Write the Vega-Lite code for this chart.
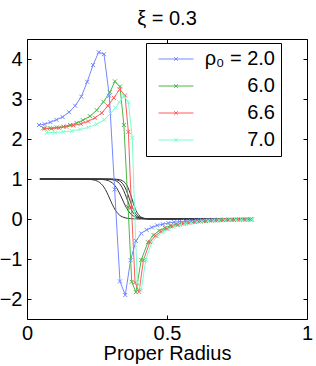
{
  "$schema": "https://vega.github.io/schema/vega-lite/v6.json",
  "width": 280,
  "height": 280,
  "autosize": {"type": "none"},
  "padding": {"left": 27, "top": 39, "right": 9, "bottom": 47},
  "background": "white",
  "title": {"text": "ξ = 0.3", "fontSize": 20, "font": "Liberation Sans", "fontWeight": "normal", "offset": 10, "color": "black"},
  "config": {
    "view": {"stroke": "black", "strokeWidth": 1},
    "font": "Liberation Sans",
    "axis": {"grid": false, "domain": false, "tickColor": "black", "labelColor": "black", "titleColor": "black", "labelFont": "Liberation Sans", "titleFont": "Liberation Sans", "labelFontSize": 20, "titleFontSize": 20, "titleFontWeight": "normal", "tickSize": -4}
  },
  "datasets": {
    "black": [
      {"r": 0.046, "v": 1, "c": "b1"}, {"r": 0.2, "v": 0.998, "c": "b1"}, {"r": 0.22, "v": 0.992, "c": "b1"}, {"r": 0.24, "v": 0.973, "c": "b1"}, {"r": 0.25, "v": 0.951, "c": "b1"}, {"r": 0.26, "v": 0.91, "c": "b1"}, {"r": 0.27, "v": 0.842, "c": "b1"}, {"r": 0.28, "v": 0.737, "c": "b1"}, {"r": 0.29, "v": 0.595, "c": "b1"}, {"r": 0.3, "v": 0.437, "c": "b1"}, {"r": 0.31, "v": 0.29, "c": "b1"}, {"r": 0.32, "v": 0.177, "c": "b1"}, {"r": 0.33, "v": 0.1, "c": "b1"}, {"r": 0.34, "v": 0.056, "c": "b1"}, {"r": 0.35, "v": 0.03, "c": "b1"}, {"r": 0.36, "v": 0.016, "c": "b1"}, {"r": 0.38, "v": 0.005, "c": "b1"}, {"r": 0.4, "v": 0.001, "c": "b1"}, {"r": 0.8, "v": 0, "c": "b1"},
      {"r": 0.046, "v": 1, "c": "b2"}, {"r": 0.2, "v": 1, "c": "b2"}, {"r": 0.24, "v": 0.998, "c": "b2"}, {"r": 0.26, "v": 0.993, "c": "b2"}, {"r": 0.28, "v": 0.977, "c": "b2"}, {"r": 0.3, "v": 0.924, "c": "b2"}, {"r": 0.31, "v": 0.867, "c": "b2"}, {"r": 0.32, "v": 0.777, "c": "b2"}, {"r": 0.33, "v": 0.651, "c": "b2"}, {"r": 0.34, "v": 0.5, "c": "b2"}, {"r": 0.35, "v": 0.349, "c": "b2"}, {"r": 0.36, "v": 0.223, "c": "b2"}, {"r": 0.37, "v": 0.133, "c": "b2"}, {"r": 0.38, "v": 0.076, "c": "b2"}, {"r": 0.39, "v": 0.042, "c": "b2"}, {"r": 0.4, "v": 0.023, "c": "b2"}, {"r": 0.41, "v": 0.012, "c": "b2"}, {"r": 0.42, "v": 0.007, "c": "b2"}, {"r": 0.44, "v": 0.002, "c": "b2"}, {"r": 0.8, "v": 0, "c": "b2"},
      {"r": 0.046, "v": 1, "c": "b3"}, {"r": 0.26, "v": 0.999, "c": "b3"}, {"r": 0.28, "v": 0.997, "c": "b3"}, {"r": 0.3, "v": 0.988, "c": "b3"}, {"r": 0.31, "v": 0.974, "c": "b3"}, {"r": 0.32, "v": 0.945, "c": "b3"}, {"r": 0.33, "v": 0.889, "c": "b3"}, {"r": 0.34, "v": 0.787, "c": "b3"}, {"r": 0.35, "v": 0.632, "c": "b3"}, {"r": 0.36, "v": 0.443, "c": "b3"}, {"r": 0.37, "v": 0.269, "c": "b3"}, {"r": 0.38, "v": 0.146, "c": "b3"}, {"r": 0.39, "v": 0.073, "c": "b3"}, {"r": 0.4, "v": 0.035, "c": "b3"}, {"r": 0.41, "v": 0.017, "c": "b3"}, {"r": 0.42, "v": 0.008, "c": "b3"}, {"r": 0.44, "v": 0.002, "c": "b3"}, {"r": 0.8, "v": 0, "c": "b3"},
      {"r": 0.046, "v": 1, "c": "b4"}, {"r": 0.28, "v": 0.999, "c": "b4"}, {"r": 0.3, "v": 0.996, "c": "b4"}, {"r": 0.31, "v": 0.991, "c": "b4"}, {"r": 0.32, "v": 0.979, "c": "b4"}, {"r": 0.33, "v": 0.953, "c": "b4"}, {"r": 0.34, "v": 0.897, "c": "b4"}, {"r": 0.35, "v": 0.791, "c": "b4"}, {"r": 0.36, "v": 0.622, "c": "b4"}, {"r": 0.37, "v": 0.417, "c": "b4"}, {"r": 0.38, "v": 0.237, "c": "b4"}, {"r": 0.39, "v": 0.119, "c": "b4"}, {"r": 0.4, "v": 0.056, "c": "b4"}, {"r": 0.41, "v": 0.025, "c": "b4"}, {"r": 0.42, "v": 0.011, "c": "b4"}, {"r": 0.44, "v": 0.002, "c": "b4"}, {"r": 0.8, "v": 0, "c": "b4"},
      {"r": 0.046, "v": 1, "c": "b5"}, {"r": 0.3, "v": 0.999, "c": "b5"}, {"r": 0.31, "v": 0.997, "c": "b5"}, {"r": 0.32, "v": 0.993, "c": "b5"}, {"r": 0.33, "v": 0.984, "c": "b5"}, {"r": 0.34, "v": 0.96, "c": "b5"}, {"r": 0.35, "v": 0.906, "c": "b5"}, {"r": 0.36, "v": 0.796, "c": "b5"}, {"r": 0.37, "v": 0.611, "c": "b5"}, {"r": 0.38, "v": 0.389, "c": "b5"}, {"r": 0.39, "v": 0.204, "c": "b5"}, {"r": 0.4, "v": 0.094, "c": "b5"}, {"r": 0.41, "v": 0.04, "c": "b5"}, {"r": 0.42, "v": 0.016, "c": "b5"}, {"r": 0.44, "v": 0.003, "c": "b5"}, {"r": 0.8, "v": 0, "c": "b5"}
    ],
    "curves": [
      {"r": 0.043, "v": 2.35, "rho": "2.0"}, {"r": 0.063, "v": 2.37, "rho": "2.0"}, {"r": 0.084, "v": 2.42, "rho": "2.0"}, {"r": 0.105, "v": 2.48, "rho": "2.0"}, {"r": 0.127, "v": 2.55, "rho": "2.0"}, {"r": 0.15, "v": 2.67, "rho": "2.0"}, {"r": 0.172, "v": 2.83, "rho": "2.0"}, {"r": 0.194, "v": 3.06, "rho": "2.0"}, {"r": 0.215, "v": 3.43, "rho": "2.0"}, {"r": 0.236, "v": 3.85, "rho": "2.0"}, {"r": 0.256, "v": 4.17, "rho": "2.0"}, {"r": 0.275, "v": 4.12, "rho": "2.0"}, {"r": 0.294, "v": 3.08, "rho": "2.0"}, {"r": 0.313, "v": 0.74, "rho": "2.0"}, {"r": 0.332, "v": -1.56, "rho": "2.0"}, {"r": 0.351, "v": -1.9, "rho": "2.0"}, {"r": 0.37, "v": -1.03, "rho": "2.0"}, {"r": 0.389, "v": -0.55, "rho": "2.0"}, {"r": 0.408, "v": -0.36, "rho": "2.0"}, {"r": 0.427, "v": -0.27, "rho": "2.0"}, {"r": 0.446, "v": -0.21, "rho": "2.0"}, {"r": 0.465, "v": -0.16, "rho": "2.0"}, {"r": 0.485, "v": -0.13, "rho": "2.0"}, {"r": 0.505, "v": -0.1, "rho": "2.0"}, {"r": 0.525, "v": -0.08, "rho": "2.0"}, {"r": 0.545, "v": -0.065, "rho": "2.0"}, {"r": 0.565, "v": -0.053, "rho": "2.0"}, {"r": 0.585, "v": -0.043, "rho": "2.0"}, {"r": 0.605, "v": -0.035, "rho": "2.0"}, {"r": 0.625, "v": -0.029, "rho": "2.0"}, {"r": 0.645, "v": -0.024, "rho": "2.0"}, {"r": 0.665, "v": -0.02, "rho": "2.0"}, {"r": 0.685, "v": -0.017, "rho": "2.0"}, {"r": 0.705, "v": -0.014, "rho": "2.0"}, {"r": 0.725, "v": -0.012, "rho": "2.0"}, {"r": 0.745, "v": -0.01, "rho": "2.0"}, {"r": 0.765, "v": -0.008, "rho": "2.0"}, {"r": 0.785, "v": -0.007, "rho": "2.0"}, {"r": 0.8, "v": -0.006, "rho": "2.0"},
      {"r": 0.058, "v": 2.27, "rho": "6.0"}, {"r": 0.082, "v": 2.27, "rho": "6.0"}, {"r": 0.106, "v": 2.29, "rho": "6.0"}, {"r": 0.13, "v": 2.31, "rho": "6.0"}, {"r": 0.154, "v": 2.35, "rho": "6.0"}, {"r": 0.177, "v": 2.4, "rho": "6.0"}, {"r": 0.2, "v": 2.47, "rho": "6.0"}, {"r": 0.225, "v": 2.57, "rho": "6.0"}, {"r": 0.249, "v": 2.72, "rho": "6.0"}, {"r": 0.273, "v": 2.93, "rho": "6.0"}, {"r": 0.296, "v": 3.17, "rho": "6.0"}, {"r": 0.314, "v": 3.44, "rho": "6.0"}, {"r": 0.332, "v": 3.31, "rho": "6.0"}, {"r": 0.346, "v": 2.35, "rho": "6.0"}, {"r": 0.361, "v": 0.3, "rho": "6.0"}, {"r": 0.374, "v": -1.57, "rho": "6.0"}, {"r": 0.389, "v": -1.83, "rho": "6.0"}, {"r": 0.408, "v": -1.02, "rho": "6.0"}, {"r": 0.432, "v": -0.58, "rho": "6.0"}, {"r": 0.452, "v": -0.4, "rho": "6.0"}, {"r": 0.472, "v": -0.29, "rho": "6.0"}, {"r": 0.492, "v": -0.22, "rho": "6.0"}, {"r": 0.512, "v": -0.17, "rho": "6.0"}, {"r": 0.532, "v": -0.135, "rho": "6.0"}, {"r": 0.552, "v": -0.108, "rho": "6.0"}, {"r": 0.572, "v": -0.087, "rho": "6.0"}, {"r": 0.592, "v": -0.07, "rho": "6.0"}, {"r": 0.612, "v": -0.057, "rho": "6.0"}, {"r": 0.632, "v": -0.047, "rho": "6.0"}, {"r": 0.652, "v": -0.039, "rho": "6.0"}, {"r": 0.672, "v": -0.032, "rho": "6.0"}, {"r": 0.692, "v": -0.027, "rho": "6.0"}, {"r": 0.712, "v": -0.022, "rho": "6.0"}, {"r": 0.732, "v": -0.019, "rho": "6.0"}, {"r": 0.752, "v": -0.016, "rho": "6.0"}, {"r": 0.772, "v": -0.013, "rho": "6.0"}, {"r": 0.792, "v": -0.011, "rho": "6.0"}, {"r": 0.803, "v": -0.01, "rho": "6.0"},
      {"r": 0.062, "v": 2.26, "rho": "6.6"}, {"r": 0.088, "v": 2.26, "rho": "6.6"}, {"r": 0.114, "v": 2.28, "rho": "6.6"}, {"r": 0.14, "v": 2.31, "rho": "6.6"}, {"r": 0.166, "v": 2.34, "rho": "6.6"}, {"r": 0.192, "v": 2.38, "rho": "6.6"}, {"r": 0.218, "v": 2.44, "rho": "6.6"}, {"r": 0.243, "v": 2.53, "rho": "6.6"}, {"r": 0.267, "v": 2.65, "rho": "6.6"}, {"r": 0.289, "v": 2.83, "rho": "6.6"}, {"r": 0.31, "v": 3.03, "rho": "6.6"}, {"r": 0.331, "v": 3.24, "rho": "6.6"}, {"r": 0.35, "v": 3.09, "rho": "6.6"}, {"r": 0.362, "v": 2.18, "rho": "6.6"}, {"r": 0.373, "v": 0.29, "rho": "6.6"}, {"r": 0.386, "v": -1.59, "rho": "6.6"}, {"r": 0.4, "v": -1.82, "rho": "6.6"}, {"r": 0.416, "v": -1.03, "rho": "6.6"}, {"r": 0.439, "v": -0.57, "rho": "6.6"}, {"r": 0.459, "v": -0.42, "rho": "6.6"}, {"r": 0.479, "v": -0.31, "rho": "6.6"}, {"r": 0.499, "v": -0.24, "rho": "6.6"}, {"r": 0.519, "v": -0.185, "rho": "6.6"}, {"r": 0.539, "v": -0.145, "rho": "6.6"}, {"r": 0.559, "v": -0.115, "rho": "6.6"}, {"r": 0.579, "v": -0.093, "rho": "6.6"}, {"r": 0.599, "v": -0.075, "rho": "6.6"}, {"r": 0.619, "v": -0.061, "rho": "6.6"}, {"r": 0.639, "v": -0.05, "rho": "6.6"}, {"r": 0.659, "v": -0.041, "rho": "6.6"}, {"r": 0.679, "v": -0.034, "rho": "6.6"}, {"r": 0.699, "v": -0.028, "rho": "6.6"}, {"r": 0.719, "v": -0.024, "rho": "6.6"}, {"r": 0.739, "v": -0.02, "rho": "6.6"}, {"r": 0.759, "v": -0.017, "rho": "6.6"}, {"r": 0.779, "v": -0.014, "rho": "6.6"}, {"r": 0.799, "v": -0.012, "rho": "6.6"},
      {"r": 0.07, "v": 2.16, "rho": "7.0"}, {"r": 0.1, "v": 2.16, "rho": "7.0"}, {"r": 0.13, "v": 2.18, "rho": "7.0"}, {"r": 0.16, "v": 2.2, "rho": "7.0"}, {"r": 0.19, "v": 2.24, "rho": "7.0"}, {"r": 0.219, "v": 2.29, "rho": "7.0"}, {"r": 0.249, "v": 2.37, "rho": "7.0"}, {"r": 0.276, "v": 2.48, "rho": "7.0"}, {"r": 0.298, "v": 2.64, "rho": "7.0"}, {"r": 0.316, "v": 2.78, "rho": "7.0"}, {"r": 0.33, "v": 2.92, "rho": "7.0"}, {"r": 0.346, "v": 3.08, "rho": "7.0"}, {"r": 0.362, "v": 2.92, "rho": "7.0"}, {"r": 0.376, "v": 2.03, "rho": "7.0"}, {"r": 0.384, "v": 0.25, "rho": "7.0"}, {"r": 0.394, "v": -1.58, "rho": "7.0"}, {"r": 0.408, "v": -1.79, "rho": "7.0"}, {"r": 0.424, "v": -1.02, "rho": "7.0"}, {"r": 0.446, "v": -0.58, "rho": "7.0"}, {"r": 0.466, "v": -0.43, "rho": "7.0"}, {"r": 0.486, "v": -0.32, "rho": "7.0"}, {"r": 0.506, "v": -0.25, "rho": "7.0"}, {"r": 0.526, "v": -0.19, "rho": "7.0"}, {"r": 0.546, "v": -0.15, "rho": "7.0"}, {"r": 0.566, "v": -0.12, "rho": "7.0"}, {"r": 0.586, "v": -0.096, "rho": "7.0"}, {"r": 0.606, "v": -0.078, "rho": "7.0"}, {"r": 0.626, "v": -0.063, "rho": "7.0"}, {"r": 0.646, "v": -0.052, "rho": "7.0"}, {"r": 0.666, "v": -0.043, "rho": "7.0"}, {"r": 0.686, "v": -0.035, "rho": "7.0"}, {"r": 0.706, "v": -0.03, "rho": "7.0"}, {"r": 0.726, "v": -0.025, "rho": "7.0"}, {"r": 0.746, "v": -0.021, "rho": "7.0"}, {"r": 0.766, "v": -0.018, "rho": "7.0"}, {"r": 0.786, "v": -0.015, "rho": "7.0"}, {"r": 0.802, "v": -0.013, "rho": "7.0"}
    ]
  },
  "resolve": {"axis": {"x": "independent", "y": "independent"}},
  "layer": [
    {
      "data": {"name": "black"},
      "mark": {"type": "line", "color": "#333333", "strokeWidth": 1, "interpolate": "monotone"},
      "encoding": {
        "x": {"field": "r", "type": "quantitative", "scale": {"domain": [0, 1], "nice": false}, "axis": {"values": [0, 0.5, 1], "labelExpr": "datum.value", "title": "Proper Radius", "labelPadding": 8, "titlePadding": 0, "labelFlush": false}},
        "y": {"field": "v", "type": "quantitative", "scale": {"domain": [-2.5, 4.5], "nice": false, "zero": false}, "axis": {"values": [-2, -1, 0, 1, 2, 3, 4], "format": "d", "title": null, "labelPadding": 9}},
        "detail": {"field": "c"}
      }
    },
    {
      "data": {"name": "curves"},
      "mark": {"type": "line", "strokeWidth": 1},
      "encoding": {
        "x": {"field": "r", "type": "quantitative", "axis": {"orient": "top", "values": [0, 0.5, 1], "labels": false, "title": null}},
        "y": {"field": "v", "type": "quantitative", "axis": {"orient": "right", "values": [-2, -1, 0, 1, 2, 3, 4], "labels": false, "title": null}},
        "color": {
          "field": "rho", "type": "nominal",
          "scale": {"domain": ["2.0", "6.0", "6.6", "7.0"], "range": ["#7388ff", "#48b848", "#ff5a5a", "#7affcc"]},
          "legend": {
            "orient": "none", "legendX": 119, "legendY": 4, "title": null,
            "labelExpr": "datum.label == '2.0' ? 'ρ₀ = 2.0' : datum.label",
            "labelAlign": "right", "labelOffset": 89, "labelFontSize": 20, "labelColor": "black", "labelFont": "Liberation Sans",
            "symbolType": "M-2,0L2,0M-0.2,-0.2L0.2,0.2M-0.2,0.2L0.2,-0.2", "symbolSize": 306, "symbolStrokeWidth": 1, "symbolFillColor": "transparent", "symbolOffset": 14,
            "strokeColor": "black", "fillColor": "white", "padding": 6, "rowPadding": 7
          }
        }
      }
    },
    {
      "data": {"name": "curves"},
      "mark": {"type": "point", "shape": "M-1,-1L1,1M-1,1L1,-1", "size": 16, "filled": false, "strokeWidth": 1, "opacity": 1},
      "encoding": {
        "x": {"field": "r", "type": "quantitative", "axis": null},
        "y": {"field": "v", "type": "quantitative", "axis": null},
        "color": {"field": "rho", "type": "nominal", "legend": null}
      }
    }
  ]
}
